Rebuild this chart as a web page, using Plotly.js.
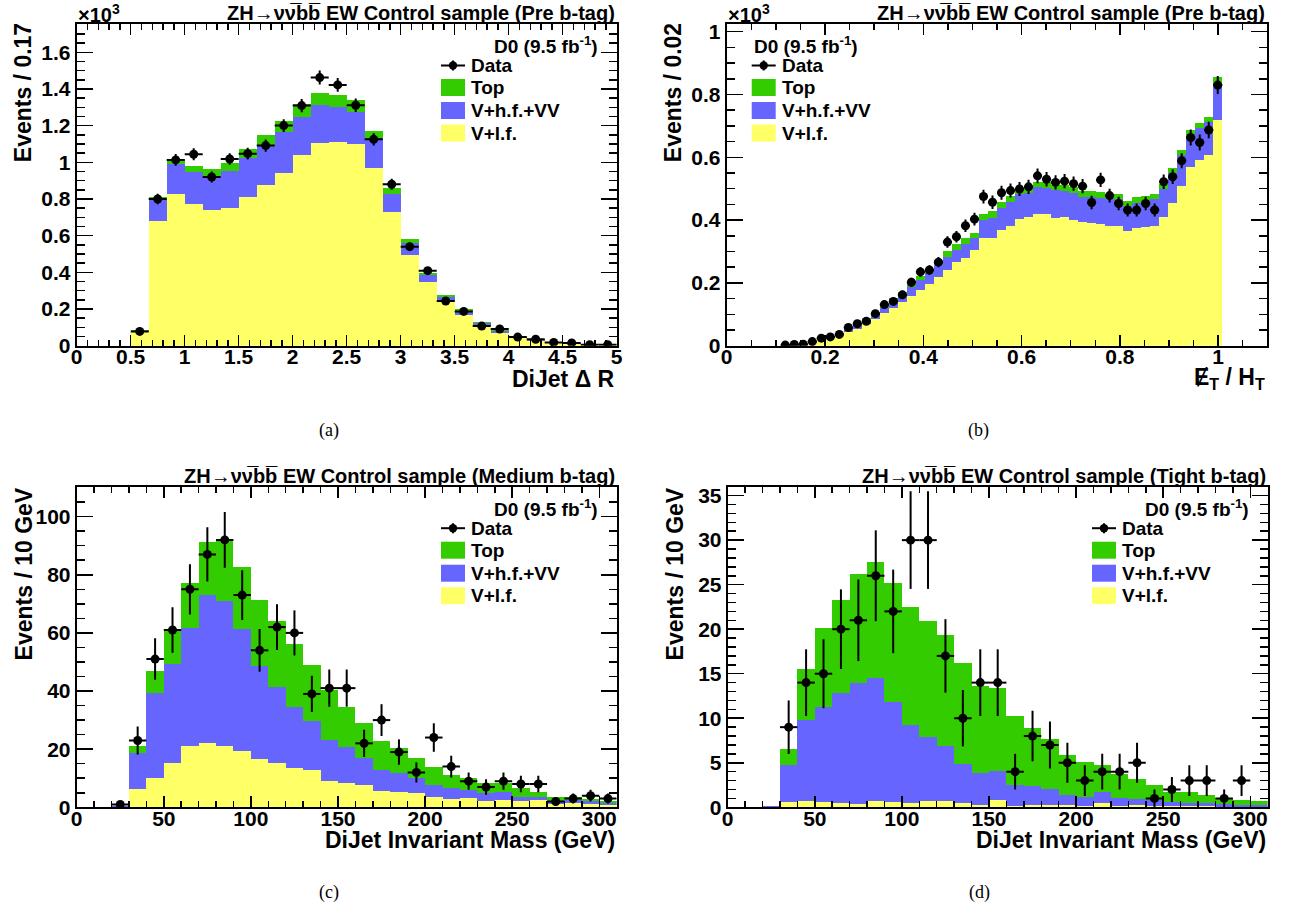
<!DOCTYPE html>
<html><head><meta charset="utf-8">
<script src="https://cdn.plot.ly/plotly-3.0.1.min.js"></script>
<style>html,body{margin:0;padding:0;background:#fff}#chart{width:1293px;height:907px}</style>
</head><body><div id="chart"></div>
<script>
// ---------------- DATA ----------------
// (a) DiJet Delta R, 30 bins of 1/6 from 0 to 5 (events)
const a_lf   = [0,0,0,76,678,827,773,742,749,813,875,942,1038,1107,1111,1098,971,729,495,345,244,165,107,71,44,27,18,12,7,5];
const a_hf   = [0,0,0,6,120,164,176,185,204,212,216,222,211,206,189,178,160,96,63,39,21,26,15,9,5,5,2,2,1,1];
const a_top  = [0,0,0,3,15,25,31,37,43,50,58,61,67,63,67,64,40,37,22,14,10,7,7,4,4,3,2,1,1,1];
const a_data = [0,0,0,78,800,1013,1044,920,1018,1047,1091,1200,1309,1462,1422,1311,1125,880,540,409,244,187,107,91,47,35,18,15,5,5];

// (b) MET/HT, 60 bins from 0 to 1.1 (events)
const b_lf = [0,0,0,0,0,0,
  1,2,4,9,18,26,34,44,53,69,
  85,103,119,138,158,177,196,218,241,265,
  278,305,342,342,370,382,403,409,419,419,
  408,409,400,393,390,386,382,382,366,374,
  377,382,411,456,510,568,591,607,719,
  0,0,0,0,0];
const b_hf = [0,0,0,0,0,0,
  0,0,1,1,1,3,5,8,13,13,
  16,18,23,23,30,32,34,39,40,40,
  46,37,58,64,67,77,79,78,85,84,
  88,85,87,82,85,85,84,84,80,82,
  82,84,88,93,97,103,103,105,119,
  0,0,0,0,0];
const b_top = [0,0,0,0,0,0,
  0,0,0,1,1,2,2,3,5,6,
  7,9,9,10,11,13,13,16,20,19,
  18,18,21,23,21,19,17,17,17,18,
  15,17,17,17,17,17,17,17,16,19,
  18,17,16,16,16,16,16,15,17,
  0,0,0,0,0];
const b_data = [0,0,0,0,0,0,
  2,4,5,13,24,28,36,58,70,78,
  102,131,141,162,202,235,241,266,330,347,
  382,403,475,457,487,494,499,506,541,530,
  520,524,516,508,456,528,478,453,432,432,
  453,432,522,538,589,663,647,687,830,
  0,0,0,0,0];

// (c) DiJet mass, medium b-tag, 31 bins of 10 GeV
const c_lf   = [0,0,0.1,6.2,10,15.4,21.1,22,21.2,19.4,16.6,15.1,13.4,12.8,8.9,8.3,7.7,5.6,5.4,4.8,3.4,2.9,3.3,2.2,2.5,2.3,2.5,1.1,1.4,1.0,0.8];
const c_hf   = [0,0,0.2,12.4,29.2,34.0,40.7,50.9,49.8,41.8,32.0,26.2,21.1,16.9,14.3,12.3,9.2,7.2,6.3,5.2,4.3,3.6,2.7,2.6,2.9,1.4,1.2,0.9,1.1,1.0,0.6];
const c_top  = [0,0,0,2.6,7.7,11.8,15.3,18.5,21.2,21.6,22.6,22.7,21.8,19.4,17.2,14.0,12.2,10.0,8.6,6.9,6.3,4.6,4.0,3.6,2.9,3.1,1.7,1.7,0.9,0.8,0.9];
const c_data = [0,0,1,23,51,61,75,87,92,73,54,62,60,39,41,41,22,30,19,12,24,14,9,7,9,8,8,2,3,4,3];

// (d) DiJet mass, tight b-tag, 31 bins of 10 GeV
const d_lf   = [0,0,0,0.64,0.67,0.56,0.5,0.4,0.67,0.64,0.5,0.67,0.67,0.5,0.26,0.8,0.2,0.3,0.26,0.26,0.2,0.45,0.2,0.26,0.15,0.1,0.1,0.1,0.05,0.05,0.05];
const d_hf   = [0,0,0.15,4.11,9.13,10.74,12.3,13.6,13.83,11.16,8.7,7.23,6.23,4.4,3.64,3.3,2.3,2.1,1.84,1.14,1.0,1.25,0.9,0.64,0.65,0.46,0.35,0.35,0.29,0.21,0.21];
const d_top  = [0,0,0,1.75,5.7,8.8,10.5,12.2,13.1,13.4,13.3,13.0,12.5,11.3,9.7,9.3,7.7,6.5,5.6,4.5,3.85,3.0,2.6,2.3,1.7,1.2,1.25,0.95,0.66,0.54,0.49];
const d_data = [0,0,0,9,14,15,20,21,26,22,30,30,17,10,14,14,4,8,7,5,3,4,4,5,1,2,3,3,1,3,0];

// labels
const titleBase = "ZH\u2192\u03BD\u03BD\u0305bb\u0305 EW Control sample ";
const panelTags = ["(Pre b-tag)","(Pre b-tag)","(Medium b-tag)","(Tight b-tag)"];
const yTitles = ["Events / 0.17","Events / 0.02","Events / 10 GeV","Events / 10 GeV"];
const xTitles = ["DiJet \u0394 R","\u0246<sub>T</sub> / H<sub>T</sub>","DiJet Invariant Mass (GeV)","DiJet Invariant Mass (GeV)"];
const captions = ["(a)","(b)","(c)","(d)"];
const legendNames = ["Data","Top","V+h.f.+VV","V+l.f."];
const lumiText = "D0 (9.5 fb<sup>-1</sup>)";

// ---------------- STYLE / LAYOUT ----------------
const W = 1293, H = 907;
const FONT = "Liberation Sans, Arial, Helvetica, sans-serif";
const COL = {top:"#33cc00", hf:"#6666ff", lf:"#ffff66"};
const px = x => x / W;
const py = y => 1 - y / H;

const panels = [
  {xa:"x",  ya:"y",  L:76.7,  R:616.7,  T:24,    B:345.7, xr:[0,5],   yr:[0,1.754], xd:0.5, xm:0.1, yd:0.2, ym:0.05, scale:1000, nb:30, x1:5,
   lf:a_lf, hf:a_hf, top:a_top, data:a_data, legLeft:false, exp:true},
  {xa:"x2", ya:"y2", L:726.7, R:1267.3, T:24,    B:345.7, xr:[0,1.1], yr:[0,1.0245], xd:0.2, xm:0.05, yd:0.2, ym:0.05, scale:1000, nb:60, x1:1.1,
   lf:b_lf, hf:b_hf, top:b_top, data:b_data, legLeft:true, exp:true},
  {xa:"x3", ya:"y3", L:76.7,  R:616.7,  T:486.7, B:807.3, xr:[0,310], yr:[0,110.3], xd:50, xm:10, yd:20, ym:5, scale:1, nb:31, x1:310,
   lf:c_lf, hf:c_hf, top:c_top, data:c_data, legLeft:false, exp:false},
  {xa:"x4", ya:"y4", L:727.7, R:1267.7, T:486.7, B:807.3, xr:[0,310], yr:[0,36], xd:50, xm:10, yd:5, ym:1, scale:1, nb:31, x1:310,
   lf:d_lf, hf:d_hf, top:d_top, data:d_data, legLeft:false, exp:false}
];

const traces = [];
const annotations = [];
const shapes = [];
const layout = {
  width: W, height: H, margin:{l:0,r:0,t:0,b:0},
  paper_bgcolor:"#fff", plot_bgcolor:"#fff",
  barmode:"stack", bargap:0, showlegend:false,
  font:{family:FONT, color:"#000"},
  annotations, shapes
};

function tickArrays(range, dtick){
  const vals = [], txt = [];
  for (let v = 0; v <= range[1] + 1e-9; v += dtick) {
    const r = Number(v.toFixed(6));
    vals.push(r); txt.push("<b>" + String(r) + "</b>");
  }
  return {vals, txt};
}

function axisCommon(range, dtick, minorDtick, majLen, minLen, standoff){
  const t = tickArrays(range, dtick);
  return {
    range, autorange:false, tickmode:"array", tickvals:t.vals, ticktext:t.txt,
    showgrid:false, zeroline:false,
    showline:true, linecolor:"#000", linewidth:2, mirror:"allticks",
    ticks:"inside", ticklen:majLen, tickwidth:1.5, tickcolor:"#000",
    minor:{tickmode:"linear", tick0:0, dtick:minorDtick, ticks:"inside", ticklen:minLen, tickwidth:1.5, tickcolor:"#000", showgrid:false},
    tickfont:{family:FONT, size:21, color:"#000", weight:700},
    ticklabelstandoff:standoff,
    fixedrange:true
  };
}

function ann(text, x, y, opts){
  annotations.push(Object.assign({text, x:px(x), y:py(y), xref:"paper", yref:"paper", showarrow:false,
    font:{family:FONT, size:19, color:"#000", weight:"bold"}}, opts||{}));
}

panels.forEach((p, k) => {
  const n = k === 0 ? "" : String(k+1);
  layout["xaxis"+n] = Object.assign(axisCommon(p.xr, p.xd, p.xm, 11, 6, -9), {domain:[px(p.L), px(p.R)], anchor:p.ya});
  layout["yaxis"+n] = Object.assign(axisCommon(p.yr, p.yd, p.ym, 16, 8, 0), {domain:[py(p.B), py(p.T)], anchor:p.xa});

  const bw = p.x1 / p.nb;
  const centers = p.lf.map((_, i) => (i + 0.5) * bw);
  const comps = [[p.lf, legendNames[3], COL.lf], [p.hf, legendNames[2], COL.hf], [p.top, legendNames[1], COL.top]];
  comps.forEach(([arr, name, col]) => {
    traces.push({type:"bar", x:centers, y:arr.map(v => v / p.scale), width:bw, name,
      marker:{color:col, line:{width:0}}, xaxis:p.xa, yaxis:p.ya, hoverinfo:"skip"});
  });
  const dx = [], dy = [], de = [];
  p.data.forEach((v, i) => { if (v > 0) { dx.push(centers[i]); dy.push(v / p.scale); de.push(Math.sqrt(v) / p.scale); } });
  traces.push({type:"scatter", mode:"markers", x:dx, y:dy, name:legendNames[0],
    marker:{color:"#000", size:9},
    error_y:{type:"data", array:de, visible:true, color:"#000", thickness:2, width:0},
    error_x:{type:"constant", value:bw/2, visible:true, color:"#000", thickness:2, width:0},
    xaxis:p.xa, yaxis:p.ya, cliponaxis:true});

  // title (right aligned at top-right of frame)
  ann(titleBase + panelTags[k], p.R, p.T - 11, {xanchor:"right", yanchor:"middle", font:{family:FONT, size:20, color:"#000", weight:"bold"}});
  // x10^3 exponent
  if (p.exp) ann("\u00D710<sup>3</sup>", p.L - 1, p.T - 11, {xanchor:"left", yanchor:"middle", font:{family:FONT, size:20, color:"#000", weight:"bold"}});
  // x title right aligned
  ann(xTitles[k], p.R, p.B + 33, {xanchor:"right", yanchor:"middle", font:{family:FONT, size:23, color:"#000", weight:"bold"}});
  // y title rotated, top aligned with frame
  const yLen = (k >= 2) ? 172 : 135;
  ann(yTitles[k], p.L - 53, p.T + 1 + yLen/2, {xanchor:"center", yanchor:"middle", textangle:-90, font:{family:FONT, size:23, color:"#000", weight:"bold"}});
  // caption
  ann(captions[k], p.L + 252, p.B + 85, {xanchor:"center", yanchor:"middle", font:{family:"Liberation Serif, DejaVu Serif, serif", size:18, color:"#000"}});

  // legend
  const bl = p.legLeft ? p.L + 25 : p.L + 364.3;   // left edge of legend symbols
  const bwid = 24;
  const tx = bl + 28;
  if (p.legLeft) ann(lumiText, bl, p.T + 21, {xanchor:"left", yanchor:"middle"});
  else ann(lumiText, p.L + 523.3, p.T + 21, {xanchor:"right", yanchor:"middle"});
  const rowY = [p.T + 41.5, p.T + 63.5, p.T + 86.5, p.T + 109];
  // Data symbol
  shapes.push({type:"line", xref:"paper", yref:"paper", x0:px(bl), x1:px(bl+bwid), y0:py(rowY[0]), y1:py(rowY[0]), line:{color:"#000", width:2}});
  shapes.push({type:"line", xref:"paper", yref:"paper", x0:px(bl+bwid/2), x1:px(bl+bwid/2), y0:py(rowY[0]-5), y1:py(rowY[0]+5), line:{color:"#000", width:2}});
  shapes.push({type:"circle", xref:"paper", yref:"paper", x0:px(bl+bwid/2-4.2), x1:px(bl+bwid/2+4.2), y0:py(rowY[0]+4.2), y1:py(rowY[0]-4.2), fillcolor:"#000", line:{color:"#000", width:0}});
  ann(legendNames[0], tx, rowY[0], {xanchor:"left", yanchor:"middle"});
  const boxCols = [COL.top, COL.hf, COL.lf];
  for (let j = 1; j < 4; j++) {
    shapes.push({type:"rect", xref:"paper", yref:"paper", x0:px(bl), x1:px(bl+bwid), y0:py(rowY[j]+8.5), y1:py(rowY[j]-8.5), fillcolor:boxCols[j-1], line:{width:0}});
    ann(legendNames[j], tx, rowY[j], {xanchor:"left", yanchor:"middle"});
  }
});

Plotly.newPlot("chart", traces, layout, {staticPlot:true});
</script>
</body></html>
